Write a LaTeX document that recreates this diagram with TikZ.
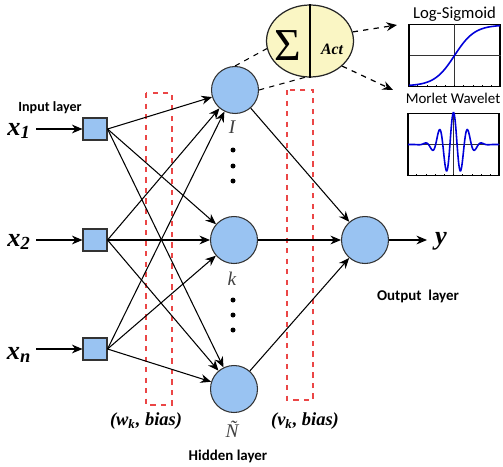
\documentclass[tikz,border=0pt]{standalone}
\usepackage{fontspec}
\setmainfont{Liberation Serif}
\newfontfamily\labelfont{Carlito}
\usetikzlibrary{arrows.meta, shapes.geometric, positioning, calc}

\definecolor{nodeblue}{RGB}{153,195,242}
\definecolor{sumyellow}{RGB}{250,246,196}
\definecolor{boxred}{RGB}{235,70,70}

\begin{document}
\begin{tikzpicture}[x=0.02cm, y=-0.02cm,
  inbox/.style={draw=black!80, fill=nodeblue, line width=0.6pt, minimum width=0.48cm, minimum height=0.44cm, inner sep=0pt},
  neuron/.style={circle, draw=black!80, fill=nodeblue, line width=0.6pt, minimum size=0.94cm, inner sep=0pt},
  wire/.style={line width=0.6pt, -{Stealth[length=6pt,width=5pt]}},
  weightbox/.style={draw=boxred, dashed, line width=0.7pt},
  plotbox/.style={draw, line width=0.8pt, minimum width=1.82cm, minimum height=1.24cm, inner sep=0pt},
  varlabel/.style={font=\fontsize{15}{15}\selectfont\bfseries\itshape},
  layerlabel/.style={font=\labelfont\fontsize{8}{8}\selectfont\bfseries},
  idxlabel/.style={font=\fontsize{11}{11}\selectfont\itshape, text=black!75},
  dotmark/.style={circle, fill=black, inner sep=0pt, minimum size=0.1cm}
]
  \useasboundingbox (0,0) rectangle (503,466);

  % weight boxes (behind the wires)
  \draw[weightbox] (146,93) rectangle (172,405);
  \draw[weightbox] (287,90) rectangle (313,400);

  % input layer
  \node[inbox] (in1) at (95,129) {};
  \node[inbox] (in2) at (95,240) {};
  \node[inbox] (in3) at (95,349) {};
  \node[varlabel] (lx1) at (19,131) {x\textsubscript{1}};
  \node[varlabel] (lx2) at (19,242) {x\textsubscript{2}};
  \node[varlabel] (lx3) at (19,355) {x\textsubscript{n}};
  \coordinate (s1) at (36,129);
  \coordinate (s2) at (36,240);
  \coordinate (s3) at (36,349);
  \foreach \i in {1,2,3}
    \draw[wire] (s\i) -- (in\i);
  \node[layerlabel] (inlab) at (50,108) {Input layer};

  % hidden layer
  \node[neuron] (h1) at (235,90) {};
  \node[neuron] (h2) at (234,240) {};
  \node[neuron] (h3) at (234,389) {};
  \node[idxlabel] (l1) at (232,127) {I};
  \node[idxlabel] (l2) at (232,279) {k};
  \node[idxlabel] (l3) at (232,429) {Ñ};
  \foreach \y in {150,166,181,300,315,330}
    \node[dotmark] at (233,\y) {};
  \node[layerlabel, font=\labelfont\fontsize{8.5}{8.5}\selectfont\bfseries] (hidlab) at (228,456) {Hidden layer};

  % output layer
  \node[neuron] (out) at (365,240) {};
  \coordinate (yend) at (427,240);
  \node[varlabel] (ly) at (441,241) {y};
  \draw[wire] (out) -- (yend);
  \node[layerlabel, font=\labelfont\fontsize{8.5}{8.5}\selectfont\bfseries] (outlab) at (418,296) {Output\ \ layer};

  % connections
  \foreach \i in {1,2,3}
    \foreach \j in {1,2,3}
      \draw[wire] (in\i.east) -- (h\j);
  \foreach \j in {1,2,3}
    \draw[wire] (h\j) -- (out);

  \node[font=\fontsize{10.5}{10.5}\selectfont\bfseries\itshape] (wlab) at (146,421) {(w\textsubscript{k}, bias)};
  \node[font=\fontsize{10.5}{10.5}\selectfont\bfseries\itshape] (vlab) at (305,421) {(v\textsubscript{k}, bias)};

  % neuron detail
  \node[ellipse, draw=black!85, fill=sumyellow, line width=0.7pt, minimum width=1.74cm, minimum height=1.44cm] (ell) at (310,41) {};
  \draw[line width=0.6pt] (ell.north) -- (ell.south);
  \node[font=\fontsize{26}{26}\selectfont] (sum) at (288,46) {Σ};
  \node[font=\fontsize{9}{9}\selectfont\bfseries\itshape] (act) at (332,49) {Act};
  \draw[dashed, line width=0.6pt] (h1.north) -- (ell.190);
  \draw[dashed, line width=0.6pt] (h1.east) -- (ell.262);

  % activation plots
  \node[plotbox] (sig) at (454.5,55.5) {};
  \node[plotbox] (mor) at (453.5,144.5) {};
  \node[font=\labelfont\fontsize{9.5}{9.5}\selectfont, anchor=base] (sigt) at (454.5,19) {Log-Sigmoid};
  \node[font=\labelfont\fontsize{8.5}{8.5}\selectfont, anchor=base] (mort) at (453,103) {Morlet Wavelet};
  \coordinate (a1) at (397,25);
  \coordinate (a2) at (393,90);
  \draw[dashed, line width=0.7pt, -{Stealth[length=6pt,width=5pt]}] (ell.12) -- (a1);
  \draw[dashed, line width=0.7pt, -{Stealth[length=6pt,width=5pt]}] (ell.-38) -- (a2);

  \draw[line width=0.6pt, black!80] (sig.north) -- (sig.south) (sig.west) -- (sig.east);
  \draw[line width=0.6pt, black!80] (mor.north) -- (mor.south) (mor.west) -- (mor.east);
  \foreach \t in {1,...,9} {
    \draw[line width=0.3pt] ($(sig.south west)!\t/10!(sig.south east)$) -- ++(0,-2);
    \draw[line width=0.3pt] ($(sig.south west)!\t/10!(sig.north west)$) -- ++(2,0);
    \draw[line width=0.3pt] ($(mor.south west)!\t/10!(mor.south east)$) -- ++(0,-2);
    \draw[line width=0.3pt] ($(mor.south west)!\t/10!(mor.north west)$) -- ++(2,0);
  }
  \draw[blue!85!black, line width=0.9pt] plot[domain=-4.5:4.5, samples=80, smooth]
    ({454.5+(\x)*45.5/4.5}, {55.5-30.5*(2/(1+exp(-(\x)))-1)});
  \draw[blue!85!black, line width=0.9pt] plot[domain=-4:4, samples=200, smooth]
    ({453.5+(\x)*45.5/4}, {144.5-32*cos(5*(\x) r)*exp(-0.5*(\x)*(\x))});
\end{tikzpicture}
\end{document}
